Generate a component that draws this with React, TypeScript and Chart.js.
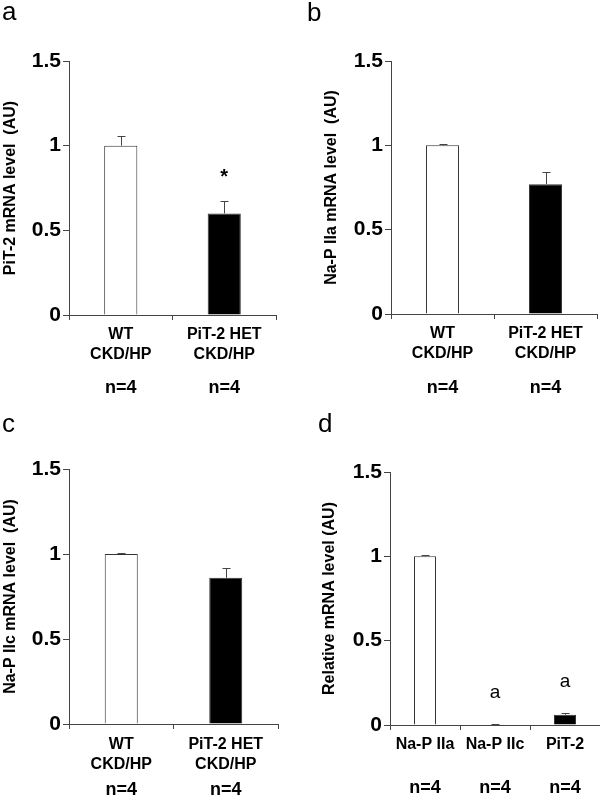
import React, { useEffect, useRef } from 'react';
import { Chart, registerables } from 'chart.js';

Chart.register(...registerables);

const FONT = '"Liberation Sans", Arial, Helvetica, sans-serif';
Chart.defaults.font.family = FONT;

// ---- shared ----
const yTicks = [0, 0.5, 1, 1.5];
const yMin = 0;
const yMax = 1.5;

// ---- panel a ----
const catsA = [['WT', 'CKD/HP'], ['PiT-2 HET', 'CKD/HP']];
const nA = ['n=4', 'n=4'];
const valsA = [1.0, 0.6];
const errsA = [0.06, 0.076];
const marksA = ['', '*'];
const fillsA = ['#ffffff', '#000000'];
const titleA = 'PiT-2 mRNA level  (AU)';

// ---- panel b ----
const catsB = [['WT', 'CKD/HP'], ['PiT-2 HET', 'CKD/HP']];
const nB = ['n=4', 'n=4'];
const valsB = [1.0, 0.77];
const errsB = [0.006, 0.07];
const marksB = ['', ''];
const fillsB = ['#ffffff', '#000000'];
const titleB = 'Na-P IIa mRNA level  (AU)';

// ---- panel c ----
const catsC = [['WT', 'CKD/HP'], ['PiT-2 HET', 'CKD/HP']];
const nC = ['n=4', 'n=4'];
const valsC = [1.0, 0.86];
const errsC = [0.006, 0.06];
const marksC = ['', ''];
const fillsC = ['#ffffff', '#000000'];
const titleC = 'Na-P IIc mRNA level  (AU)';

// ---- panel d ----
const catsD = ['Na-P IIa', 'Na-P IIc', 'PiT-2'];
const nD = ['n=4', 'n=4', 'n=4'];
const valsD = [1.0, 0.003, 0.061];
const errsD = [0.01, 0.001, 0.01];
const marksD = ['', 'a', 'a'];
const fillsD = ['#ffffff', '#000000', '#000000'];
const titleD = 'Relative mRNA level (AU)';

const AXIS = '#444444';

const errorBarPlugin = {
  id: 'errorBars',
  afterDatasetsDraw(chart: any, _args: any, opts: any) {
    const { ctx } = chart;
    const y = chart.scales.y;
    const meta = chart.getDatasetMeta(0);
    const vals = chart.data.datasets[0].data as number[];
    ctx.save();
    ctx.strokeStyle = AXIS;
    ctx.lineWidth = 1;
    meta.data.forEach((el: any, i: number) => {
      const top = Math.round(y.getPixelForValue(vals[i] + opts.errors[i])) + 0.5;
      const x = Math.round(el.x) + 0.5;
      ctx.beginPath();
      ctx.moveTo(x, el.y);
      ctx.lineTo(x, top);
      ctx.moveTo(x - opts.cap, top);
      ctx.lineTo(x + opts.cap, top);
      ctx.stroke();
      const m = opts.marks[i];
      if (m) {
        ctx.fillStyle = '#000';
        ctx.font = opts.markFont;
        ctx.textAlign = 'center';
        ctx.textBaseline = 'alphabetic';
        ctx.fillText(m, el.x, top - opts.markOffset);
      }
    });
    ctx.restore();
  },
};

const panelLetterPlugin = {
  id: 'panelLetter',
  afterDraw(chart: any, _args: any, opts: any) {
    const { ctx } = chart;
    ctx.save();
    ctx.fillStyle = '#000';
    ctx.font = `26px ${FONT}`;
    ctx.textAlign = 'left';
    ctx.textBaseline = 'alphabetic';
    ctx.fillText(opts.text, opts.x, opts.y);
    ctx.restore();
  },
};

type Panel = {
  letter: string;
  cats: any[];
  ns: string[];
  vals: number[];
  errs: number[];
  marks: string[];
  fills: string[];
  title: string;
  markFont: string;
  markOffset: number;
  left: number;
  top: number;
  w: number;
  h: number;
  yW: number;
  padTop: number;
  padRight: number;
  xH: number;
  x2H: number;
  xPad: number;
  nPad: number;
  titlePad: number;
  barPct: number;
  letterX: number;
  letterY: number;
};

const panels: Panel[] = [
  {
    letter: 'a', cats: catsA, ns: nA, vals: valsA, errs: errsA, marks: marksA, fills: fillsA, title: titleA,
    markFont: `bold 20px ${FONT}`, markOffset: 19,
    left: 0, top: 0, w: 300, h: 400, yW: 69, padTop: 61, padRight: 24, xH: 50, x2H: 35,
    xPad: 5, nPad: 12, titlePad: 1, barPct: 0.32, letterX: 2, letterY: 20,
  },
  {
    letter: 'b', cats: catsB, ns: nB, vals: valsB, errs: errsB, marks: marksB, fills: fillsB, title: titleB,
    markFont: `bold 20px ${FONT}`, markOffset: 14,
    left: 300, top: 0, w: 300, h: 400, yW: 91, padTop: 61, padRight: 3, xH: 50, x2H: 36,
    xPad: 5, nPad: 13, titlePad: 22, barPct: 0.32, letterX: 7, letterY: 21,
  },
  {
    letter: 'c', cats: catsC, ns: nC, vals: valsC, errs: errsC, marks: marksC, fills: fillsC, title: titleC,
    markFont: `bold 20px ${FONT}`, markOffset: 14,
    left: 0, top: 400, w: 300, h: 398, yW: 69, padTop: 69, padRight: 22, xH: 50, x2H: 24,
    xPad: 6, nPad: 5, titlePad: 1, barPct: 0.316, letterX: 2, letterY: 32,
  },
  {
    letter: 'd', cats: catsD, ns: nD, vals: valsD, errs: errsD, marks: marksD, fills: fillsD, title: titleD,
    markFont: `19px ${FONT}`, markOffset: 27,
    left: 300, top: 400, w: 300, h: 398, yW: 90, padTop: 72, padRight: 0, xH: 50, x2H: 23,
    xPad: 5, nPad: 2, titlePad: 20, barPct: 0.314, letterX: 18, letterY: 32,
  },
];

function PanelChart({ p }: { p: Panel }) {
  const ref = useRef<HTMLCanvasElement>(null);
  useEffect(() => {
    if (!ref.current) return;
    const chart = new Chart(ref.current, {
      type: 'bar',
      data: {
        labels: p.cats,
        datasets: [
          {
            data: p.vals,
            backgroundColor: p.fills,
            borderColor: '#333333',
            borderWidth: 1,
            barPercentage: p.barPct,
            categoryPercentage: 1,
          },
        ],
      },
      plugins: [errorBarPlugin, panelLetterPlugin],
      options: {
        animation: false,
        responsive: false,
        maintainAspectRatio: false,
        layout: { padding: { left: 0, top: p.padTop, right: p.padRight, bottom: 0 } },
        plugins: {
          legend: { display: false },
          tooltip: { enabled: false },
          errorBars: { errors: p.errs, marks: p.marks, cap: 4, markFont: p.markFont, markOffset: p.markOffset },
          panelLetter: { text: p.letter, x: p.letterX, y: p.letterY },
        } as any,
        scales: {
          x: {
            type: 'category',
            offset: true,
            grid: { display: true, drawOnChartArea: false, offset: true, tickLength: 5, color: AXIS },
            border: { display: true, color: AXIS },
            ticks: {
              font: { size: 16, weight: 'bold', lineHeight: 1.25 },
              color: '#000',
              padding: p.xPad,
              maxRotation: 0,
              minRotation: 0,
              autoSkip: false,
            },
            afterFit: (s: any) => { s.height = p.xH; },
          },
          x2: {
            type: 'category',
            labels: p.ns,
            position: 'bottom',
            offset: true,
            grid: { display: false, drawTicks: false },
            border: { display: false },
            ticks: {
              font: { size: 18, weight: 'bold', lineHeight: 1.2 },
              color: '#000',
              padding: p.nPad,
              maxRotation: 0,
              minRotation: 0,
              autoSkip: false,
            },
            afterFit: (s: any) => { s.height = p.x2H; },
          },
          y: {
            min: yMin,
            max: yMax,
            afterBuildTicks: (s: any) => { s.ticks = yTicks.map((v) => ({ value: v })); },
            ticks: {
              callback: (v: any) => String(v),
              font: { size: 21, weight: 'bold' },
              color: '#000',
              padding: 2,
            },
            grid: { drawOnChartArea: false, tickLength: 6, color: AXIS },
            border: { display: true, color: AXIS },
            title: {
              display: true,
              text: p.title,
              font: { size: 16, weight: 'bold', lineHeight: 1.2 },
              color: '#000',
              padding: { top: p.titlePad, bottom: 0 },
            },
            afterFit: (s: any) => { s.width = p.yW; },
          },
        } as any,
      },
    } as any);
    return () => chart.destroy();
  }, []);
  return (
    <canvas
      ref={ref}
      width={p.w}
      height={p.h}
      style={{ position: 'absolute', left: p.left, top: p.top, width: p.w, height: p.h }}
    />
  );
}

export default function App() {
  return (
    <div style={{ position: 'absolute', left: 0, top: 0, width: 600, height: 798, background: '#fff', overflow: 'hidden' }}>
      {panels.map((p) => (
        <PanelChart key={p.letter} p={p} />
      ))}
    </div>
  );
}
